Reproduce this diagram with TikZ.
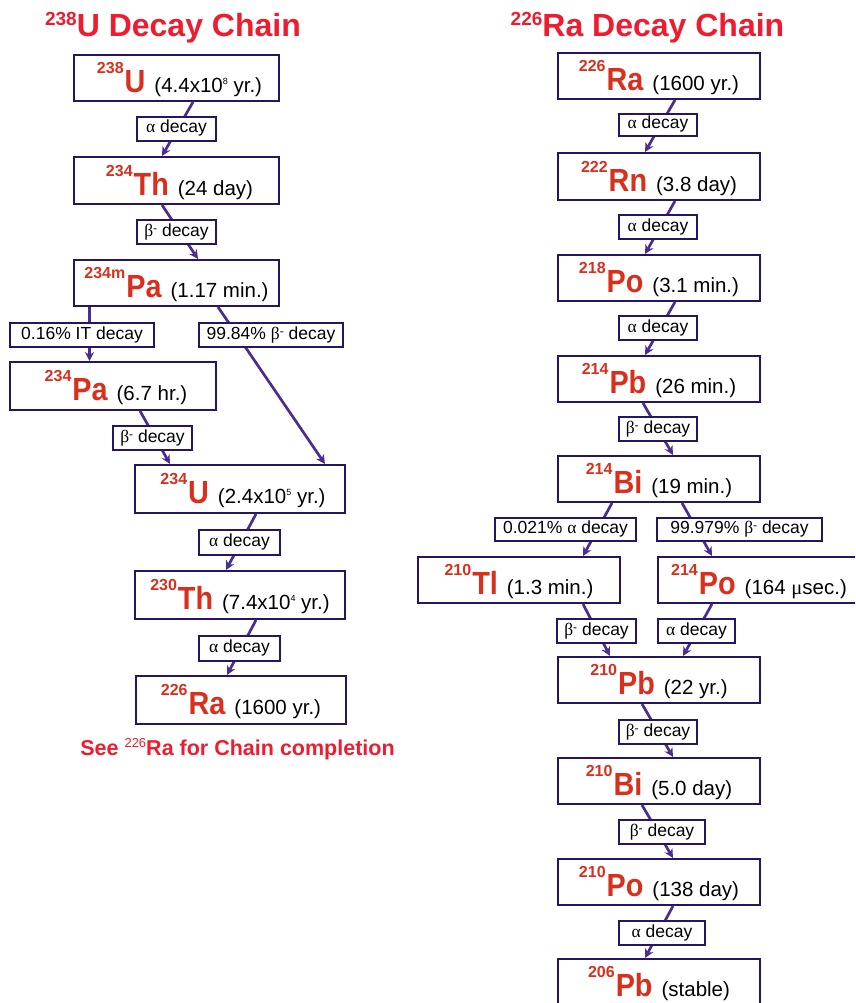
\documentclass[tikz,border=0pt]{standalone}
\usepackage{fontspec}
\setmainfont{Liberation Sans}
\newfontfamily\grk{Liberation Serif}
\usetikzlibrary{arrows.meta}
\definecolor{boxc}{HTML}{261566}
\definecolor{arrc}{HTML}{4A2D8F}
\definecolor{elred}{HTML}{D9301E}
\definecolor{ttlred}{HTML}{EE1C2E}
\newcommand{\nucl}[3]{\raisebox{19pt}{\fontsize{16}{16}\selectfont\bfseries\color{elred}#1}\kern1pt\scalebox{0.9}[1]{\fontsize{32}{32}\selectfont\bfseries\color{elred}#2}\hspace{9pt}{\fontsize{20.5}{20.5}\selectfont #3}}
\newcommand{\pw}[1]{\raisebox{8pt}{\fontsize{9}{9}\selectfont #1}}
\newcommand{\al}{{\grk α}}
\newcommand{\bm}{{\grk β}\raisebox{4pt}{\fontsize{12}{12}\selectfont -}}
\begin{document}
\begin{tikzpicture}[x=1pt,y=-1pt,
  nuc/.style={draw=boxc, line width=2pt, fill=white, inner sep=0pt,
    minimum height=46pt, text height=33pt, text depth=4pt},
  lab/.style={draw=boxc, line width=2pt, fill=white, inner sep=0pt,
    minimum height=24pt, text height=10pt, text depth=2pt,
    font=\fontsize{17.5}{17.5}\selectfont},
  thicklab/.style={lab, line width=2.8pt},
  arr/.style={draw=arrc, line width=2.7pt, -{Stealth[length=9pt,width=9pt]}},
  ttl/.style={anchor=base, text=ttlred, font=\fontsize{32}{32}\selectfont\bfseries}
]
\useasboundingbox (0,0) rectangle (855,1003);
\clip (0,0) rectangle (855,1003);

% titles
\node[ttl] (t1) at (173,37) {\raisebox{11pt}{\fontsize{19}{19}\selectfont 238}U Decay Chain};
\node[ttl] (t2) at (647.5,37) {\raisebox{11pt}{\fontsize{19}{19}\selectfont 226}Ra Decay Chain};

% left chain nuclides
\node[nuc, minimum width=205pt] (u238) at (176.5,78) {\hspace{6pt}\nucl{238}{U}{(4.4x10\pw{8} yr.)}};
\node[nuc, minimum width=205pt, minimum height=47pt] (th234) at (176.5,180.5) {\hspace{6pt}\nucl{234}{Th}{(24 day)}};
\node[nuc, minimum width=205pt] (pa234m) at (176.5,283) {\nucl{234m}{Pa}{(1.17 min.)}};
\node[nuc, minimum width=206pt, minimum height=48pt] (pa234) at (113,386) {\hspace{6pt}\nucl{234}{Pa}{(6.7 hr.)}};
\node[nuc, minimum width=210pt, minimum height=48pt] (u234) at (240,489) {\hspace{6pt}\nucl{234}{U}{(2.4x10\pw{5} yr.)}};
\node[nuc, minimum width=210pt, minimum height=48pt] (th230) at (240,595) {\nucl{230}{Th}{(7.4x10\pw{4} yr.)}};
\node[nuc, minimum width=210pt, minimum height=48pt] (ra226l) at (241,700) {\nucl{226}{Ra}{(1600 yr.)}};
\node[anchor=base, text=ttlred, font=\fontsize{21.5}{21.5}\selectfont\bfseries] (see) at (237.5,755)
  {See \raisebox{8pt}{\fontsize{13}{13}\selectfont\mdseries 226}Ra for Chain completion};

% right chain nuclides
\node[nuc, minimum width=202pt] (ra226) at (659,76) {\nucl{226}{Ra}{(1600 yr.)}};
\node[nuc, minimum width=202pt, minimum height=47pt] (rn222) at (659,176.5) {\nucl{222}{Rn}{(3.8 day)}};
\node[nuc, minimum width=202pt] (po218) at (659,278) {\nucl{218}{Po}{(3.1 min.)}};
\node[nuc, minimum width=202pt] (pb214) at (659,379) {\nucl{214}{Pb}{(26 min.)}};
\node[nuc, minimum width=202pt] (bi214) at (659,479) {\nucl{214}{Bi}{(19 min.)}};
\node[nuc, minimum width=202pt] (tl210) at (519,580) {\nucl{210}{Tl}{(1.3 min.)}};
\node[nuc, minimum width=202pt] (po214) at (759,580) {\nucl{214}{Po}{(164 {\grk μ}sec.)}};
\node[nuc, minimum width=202pt] (pb210) at (659,680) {\nucl{210}{Pb}{(22 yr.)}};
\node[nuc, minimum width=202pt] (bi210) at (659,781) {\nucl{210}{Bi}{(5.0 day)}};
\node[nuc, minimum width=202pt] (po210) at (659,882) {\nucl{210}{Po}{(138 day)}};
\node[nuc, minimum width=202pt] (pb206) at (659,982) {\nucl{206}{Pb}{(stable)}};

% left connectors
\draw[arr] ([xshift=16.5pt]u238.south) -- ([xshift=-14.5pt]th234.north);
\draw[arr] ([xshift=-14.5pt]th234.south) -- ([xshift=21.5pt]pa234m.north);
\draw[arr] ([xshift=-87pt]pa234m.south) -- ([xshift=-23.5pt]pa234.north);
\draw[arr] ([xshift=41.5pt]pa234m.south) -- ([xshift=85pt]u234.north);
\draw[arr] ([xshift=27pt]pa234.south) -- ([xshift=-70pt]u234.north);
\draw[arr] ([xshift=16pt]u234.south) -- ([xshift=-14pt]th230.north);
\draw[arr] ([xshift=16pt]th230.south) -- ([xshift=-14pt]ra226l.north);

% right connectors
\draw[arr] ([xshift=16pt]ra226.south) -- ([xshift=-14pt]rn222.north);
\draw[arr] ([xshift=16pt]rn222.south) -- ([xshift=-14pt]po218.north);
\draw[arr] ([xshift=16pt]po218.south) -- ([xshift=-14pt]pb214.north);
\draw[arr] ([xshift=-16pt]pb214.south) -- ([xshift=14pt]bi214.north);
\draw[arr] ([xshift=-47pt]bi214.south) -- ([xshift=64pt]tl210.north);
\draw[arr] ([xshift=23pt]bi214.south) -- ([xshift=-47pt]po214.north);
\draw[arr] ([xshift=64pt]tl210.south) -- ([xshift=-49pt]pb210.north);
\draw[arr] ([xshift=-47pt]po214.south) -- ([xshift=24pt]pb210.north);
\draw[arr] ([xshift=-17pt]pb210.south) -- ([xshift=14pt]bi210.north);
\draw[arr] ([xshift=-17pt]bi210.south) -- ([xshift=14pt]po210.north);
\draw[arr] ([xshift=14pt]po210.south) -- ([xshift=-14pt]pb206.north);

% left labels
\node[lab, minimum width=79pt] (l1) at (176.5,129) {\al\ decay};
\node[lab, minimum width=79pt] (l2) at (176.5,232) {\bm\ decay};
\node[thicklab, minimum width=144pt] (l3) at (82,335) {0.16\% IT decay};
\node[thicklab, minimum width=144pt] (l4) at (271,335) {99.84\% \bm\ decay};
\node[lab, minimum width=79pt] (l5) at (152.5,438) {\bm\ decay};
\node[lab, minimum width=81pt, minimum height=25pt] (l6) at (239.5,542.5) {\al\ decay};
\node[lab, minimum width=81pt, minimum height=25pt] (l7) at (239.5,648.5) {\al\ decay};

% right labels
\node[lab, minimum width=78pt, minimum height=22pt] (r1) at (658,125) {\al\ decay};
\node[lab, minimum width=78pt] (r2) at (658,227) {\al\ decay};
\node[lab, minimum width=78pt] (r3) at (658,328) {\al\ decay};
\node[lab, minimum width=78pt] (r4) at (658,429) {\bm\ decay};
\node[thicklab, minimum width=141pt, minimum height=23pt] (r5) at (565.5,529.5) {0.021\% \al\ decay};
\node[thicklab, minimum width=165pt, minimum height=23pt] (r6) at (739.5,529.5) {99.979\% \bm\ decay};
\node[lab, minimum width=79pt] (r7) at (596.5,631) {\bm\ decay};
\node[lab, minimum width=77pt] (r8) at (696.5,631) {\al\ decay};
\node[lab, minimum width=78pt] (r9) at (658,732) {\bm\ decay};
\node[lab, minimum width=86pt] (r10) at (662,832) {\bm\ decay};
\node[lab, minimum width=86pt] (r11) at (662,933) {\al\ decay};
\end{tikzpicture}
\end{document}
